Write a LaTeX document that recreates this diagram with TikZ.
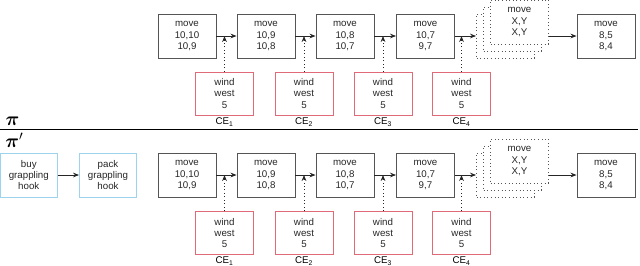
\documentclass[tikz,border=0pt]{standalone}
\usepackage{fontspec}
\usepackage{amsmath}
\setmainfont{Liberation Sans}
\usetikzlibrary{arrows.meta}
\definecolor{movegray}{HTML}{555555}
\definecolor{cered}{HTML}{E06A78}
\definecolor{buyblue}{HTML}{9ED3EE}
\begin{document}
\begin{tikzpicture}[x=0.75pt,y=-0.75pt,
  font=\fontsize{7.3}{8.4}\selectfont,
  movebox/.style={draw=movegray,line width=0.7pt,minimum width=43.5pt,minimum height=33pt,align=center,inner sep=0pt,text=black!85},
  windbox/.style={movebox,draw=cered,minimum height=32.25pt},
  buybox/.style={movebox,draw=buyblue,minimum width=42.75pt},
  ghost/.style={movebox,dotted,fill=white},
  flow/.style={-{Stealth[length=4.5pt,width=3.5pt]},line width=0.6pt,black!85},
  push/.style={flow,dotted}]
\useasboundingbox (0,0) rectangle (640,265);

% plan pi
\node (pi) at (12.5,121) {\fontsize{14}{14}\selectfont$\boldsymbol{\pi}$};
\node[movebox] (m1) at (187,36) {move\\10,10\\10,9};
\node[movebox] (m2) at (266,36) {move\\10,9\\10,8};
\node[movebox] (m3) at (345,36) {move\\10,8\\10,7};
\node[movebox] (m4) at (425.5,36) {move\\10,7\\9,7};
\node[ghost] (g1c) at (505.5,36) {};
\node[ghost] (g1b) at (512.5,29) {};
\node[ghost] (g1a) at (519.5,22) {move\\X,Y\\X,Y};
\node[movebox] (m5) at (606,36) {move\\8,5\\8,4};

\node[windbox] (w1) at (224.5,93.5) {wind\\west\\5};
\node[windbox] (w2) at (304,93.5) {wind\\west\\5};
\node[windbox] (w3) at (383,93.5) {wind\\west\\5};
\node[windbox] (w4) at (461.5,93.5) {wind\\west\\5};
\node (c1) at (224.5,122) {CE\textsubscript{1}};
\node (c2) at (304,122) {CE\textsubscript{2}};
\node (c3) at (383,122) {CE\textsubscript{3}};
\node (c4) at (461.5,122) {CE\textsubscript{4}};

\draw[flow] (m1.east) -- (m2.west);
\draw[flow] (m2.east) -- (m3.west);
\draw[flow] (m3.east) -- (m4.west);
\draw[flow] (m4.east) -- (g1c.west);
\draw[flow] (g1a.east |- m5.west) -- (m5.west);
\draw[push] (w1.north) -- (w1.north |- m1.east);
\draw[push] (w2.north) -- (w2.north |- m2.east);
\draw[push] (w3.north) -- (w3.north |- m3.east);
\draw[push] (w4.north) -- (w4.north |- m4.east);

\draw[line width=1.1pt] (0,129.5) -- (638,129.5);

% plan pi'
\node (pip) at (14.5,140) {\fontsize{14}{14}\selectfont$\boldsymbol{\pi}'$};
\node[buybox] (b1) at (28.8,175) {buy\\grappling\\hook};
\node[buybox] (b2) at (108,175) {pack\\grappling\\hook};
\node[movebox] (n1) at (187,175) {move\\10,10\\10,9};
\node[movebox] (n2) at (266,175) {move\\10,9\\10,8};
\node[movebox] (n3) at (345,175) {move\\10,8\\10,7};
\node[movebox] (n4) at (425.5,175) {move\\10,7\\9,7};
\node[ghost] (g2c) at (505.5,175) {};
\node[ghost] (g2b) at (512.5,168) {};
\node[ghost] (g2a) at (519.5,161) {move\\X,Y\\X,Y};
\node[movebox] (n5) at (606,175) {move\\8,5\\8,4};

\node[windbox] (v1) at (224.5,233) {wind\\west\\5};
\node[windbox] (v2) at (304,233) {wind\\west\\5};
\node[windbox] (v3) at (383,233) {wind\\west\\5};
\node[windbox] (v4) at (461.5,233) {wind\\west\\5};
\node (d1) at (224.5,261) {CE\textsubscript{1}};
\node (d2) at (304,261) {CE\textsubscript{2}};
\node (d3) at (383,261) {CE\textsubscript{3}};
\node (d4) at (461.5,261) {CE\textsubscript{4}};

\draw[flow] (b1.east) -- (b2.west);
\draw[flow] (n1.east) -- (n2.west);
\draw[flow] (n2.east) -- (n3.west);
\draw[flow] (n3.east) -- (n4.west);
\draw[flow] (n4.east) -- (g2c.west);
\draw[flow] (g2a.east |- n5.west) -- (n5.west);
\draw[push] (v1.north) -- (v1.north |- n1.east);
\draw[push] (v2.north) -- (v2.north |- n2.east);
\draw[push] (v3.north) -- (v3.north |- n3.east);
\draw[push] (v4.north) -- (v4.north |- n4.east);
\end{tikzpicture}
\end{document}
